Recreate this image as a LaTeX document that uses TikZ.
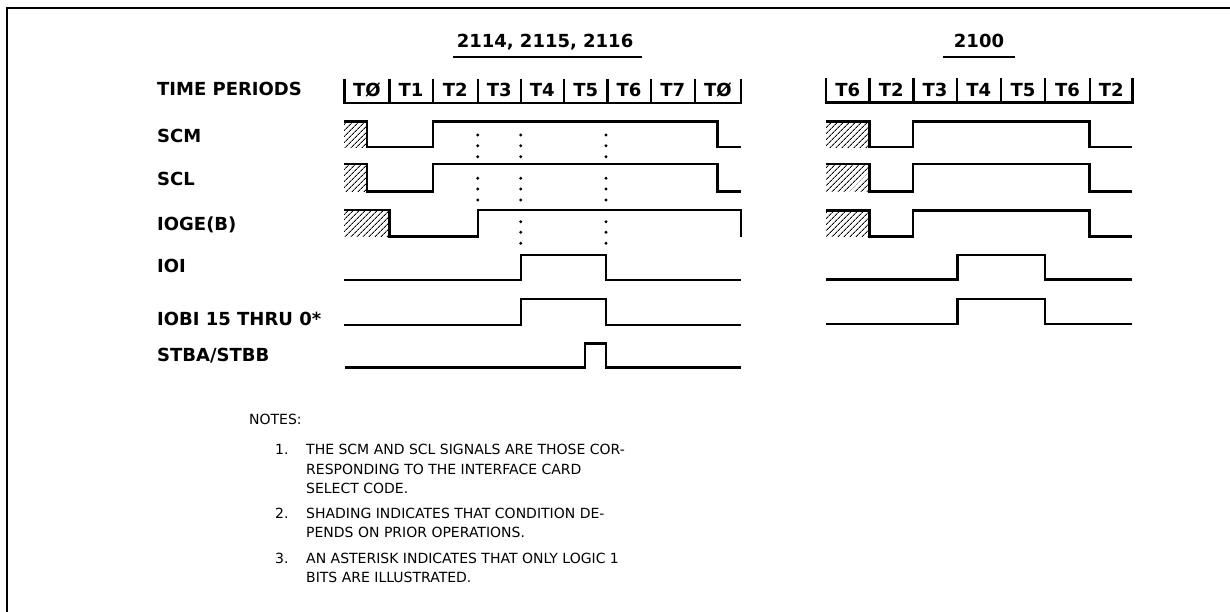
\documentclass[tikz,border=0pt]{standalone}
\usepackage{fontspec}
\setmainfont{DejaVu Sans}
\usetikzlibrary{patterns.meta}

\begin{document}
\begin{tikzpicture}[x=1pt,y=-1pt,
  wave/.style={line width=2.4pt},
  hatch/.style={pattern={Lines[angle=45,distance=4pt,line width=0.9pt]}},
  sigtext/.style={font=\fontsize{18}{20}\selectfont\bfseries,inner sep=0pt,text height=13pt,text depth=0pt},
  notetext/.style={font=\fontsize{14}{16}\selectfont,inner sep=0pt,text height=10pt,text depth=0pt,anchor=west}]
\useasboundingbox (0,0) rectangle (1230,612);
% frame
\draw[line width=2.5pt] (7,612) -- (7,8) -- (1230,8);
% titles
\node[sigtext] (t2114) at (545,41) {2114, 2115, 2116};
\draw[line width=2.2pt] (453,57) -- (642,57);
\node[sigtext] (t2100) at (979,41) {2100};
\draw[line width=2.2pt] (943,57) -- (1015,57);
% signal names
\node[sigtext,anchor=west] (ltp) at (157,89) {TIME PERIODS};
\node[sigtext,anchor=west] (lscm) at (157,136) {SCM};
\node[sigtext,anchor=west] (lscl) at (157,179) {SCL};
\node[sigtext,anchor=west] (lioge) at (157,224) {IOGE(B)};
\node[sigtext,anchor=west] (lioi) at (157,266) {IOI};
\node[sigtext,anchor=west] (liobi) at (157,319) {IOBI 15 THRU 0*};
\node[sigtext,anchor=west] (lstb) at (157,355) {STBA/STBB};
% time periods
\draw[wave] (344.3,79) -- (344.3,103) -- (740.7,103) -- (740.7,79);
\foreach \a/\b/\t [count=\k] in {344.3/389.3/TØ,389.3/432.7/T1,432.7/477.7/T2,477.7/520.7/T3,
  520.7/564/T4,564/607.3/T5,607.3/650.7/T6,650.7/695/T7,695/740.7/TØ}{
  \draw[wave] (\a,79) -- (\a,103);
  \node[sigtext] (pa\k) at ({(\a+\b)/2},90) {\t};
}
\draw[wave] (826,78.5) -- (826,102.7) -- (1132.3,102.7) -- (1132.3,78.5);
\foreach \a/\b/\t [count=\k] in {826/869.3/T6,869.3/913.3/T2,913.3/956.7/T3,956.7/1001/T4,
  1001/1045/T5,1045/1090/T6,1090/1132.3/T2}{
  \draw[wave] (\a,78.5) -- (\a,102.7);
  \node[sigtext] (pb\k) at ({(\a+\b)/2},90) {\t};
}
% 2114, 2115, 2116
\fill[hatch] (344,121.7) rectangle (366.7,147.3);
\draw[wave] (344,121.7) -- (366.7,121.7) -- (366.7,147.3) -- (432.7,147.3) -- (432.7,121.7)
  -- (717.3,121.7) -- (717.3,147.3) -- (741,147.3);
\fill[hatch] (344,164) rectangle (366.7,191.7);
\draw[wave] (344,164) -- (366.7,164) -- (366.7,191.7) -- (432.7,191.7) -- (432.7,164)
  -- (717.3,164) -- (717.3,191.7) -- (741,191.7);
\fill[hatch] (344,210) rectangle (389.3,236.7);
\draw[wave] (344,210) -- (389.3,210) -- (389.3,236.7) -- (477.7,236.7) -- (477.7,210)
  -- (740.7,210) -- (740.7,236.7);
\draw[wave] (344,280) -- (520.7,280) -- (520.7,255) -- (606,255) -- (606,280) -- (741,280);
\draw[wave] (344,325) -- (520.7,325) -- (520.7,299) -- (606,299) -- (606,325) -- (741,325);
\draw[wave] (345,367.3) -- (585,367.3) -- (585,343.3) -- (606,343.3) -- (606,367.3) -- (741,367.3);
\foreach \x in {477.7,520.7,606}
  \foreach \y in {135,145.7,156.7,178.3,189,200}
    \fill (\x,\y) circle (1.6);
\foreach \x in {520.7,606}
  \foreach \y in {221.7,232.3,243.3}
    \fill (\x,\y) circle (1.6);
% 2100
\fill[hatch] (826,121.7) rectangle (869.3,147.3);
\draw[wave] (826,121.7) -- (869.3,121.7) -- (869.3,147.3) -- (912.7,147.3) -- (912.7,121.7)
  -- (1089.3,121.7) -- (1089.3,147.3) -- (1131.7,147.3);
\fill[hatch] (826,164) rectangle (869.3,191.7);
\draw[wave] (826,164) -- (869.3,164) -- (869.3,191.7) -- (912.7,191.7) -- (912.7,164)
  -- (1089.3,164) -- (1089.3,191.7) -- (1131.7,191.7);
\fill[hatch] (826,210.7) rectangle (869.3,236.7);
\draw[wave] (826,210.7) -- (869.3,210.7) -- (869.3,236.7) -- (912.7,236.7) -- (912.7,210.7)
  -- (1089.3,210.7) -- (1089.3,236.7) -- (1131.7,236.7);
\draw[wave] (826,279.3) -- (957.3,279.3) -- (957.3,255) -- (1045,255) -- (1045,279.3) -- (1131.7,279.3);
\draw[wave] (826,324) -- (957.3,324) -- (957.3,299) -- (1045,299) -- (1045,324) -- (1131.7,324);
% notes
\node[notetext] (notes) at (249,419) {NOTES:};
\node[notetext] (n1) at (275,449) {1.};
\node[notetext] (n2) at (275,513) {2.};
\node[notetext] (n3) at (275,558) {3.};
\foreach \y/\t [count=\k] in {449/THE SCM AND SCL SIGNALS ARE THOSE COR-,469/RESPONDING TO THE INTERFACE CARD,
  488/SELECT CODE.,513/SHADING INDICATES THAT CONDITION DE-,532/PENDS ON PRIOR OPERATIONS.,
  558/AN ASTERISK INDICATES THAT ONLY LOGIC 1,577/BITS ARE ILLUSTRATED.}
  \node[notetext] (nl\k) at (306,\y) {\t};
\end{tikzpicture}
\end{document}
